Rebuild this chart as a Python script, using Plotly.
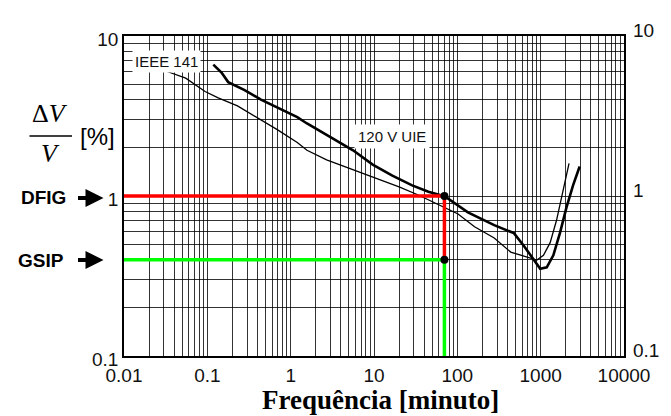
import math
import plotly.graph_objects as go

# ---- data ----
ieee_x = [0.033, 0.055, 0.094, 0.135, 0.23, 0.40, 0.69, 1.2, 1.57, 2.7, 5.6, 11.5, 20, 34,
          59, 102, 161, 277, 437, 752, 900, 1080, 1300, 1550, 1860, 2190]
ieee_y = [6.0, 5.45, 4.5, 4.1, 3.66, 3.1, 2.6, 2.16, 1.93, 1.68, 1.46, 1.28, 1.14, 1.015,
          0.885, 0.772, 0.643, 0.547, 0.446, 0.407, 0.398, 0.426, 0.511, 0.705, 1.06, 1.6]

uie_x = [0.118, 0.148, 0.178, 0.28, 0.44, 0.69, 1.2, 1.57, 2.7, 5.6, 9.65, 16.6, 28.7, 45,
         71, 134, 277, 477, 627, 823, 988, 1183, 1419, 1702, 2037, 2447, 2936]
uie_y = [6.63, 5.91, 5.15, 4.59, 4.0, 3.57, 3.11, 2.84, 2.42, 1.93, 1.57, 1.34, 1.165, 1.064,
         0.993, 0.79, 0.658, 0.586, 0.489, 0.398, 0.351, 0.358, 0.426, 0.586, 0.846, 1.165, 1.53]

freq_min = 0.01
op_freq = 70
dfig_level = 1.0
gsip_level = 0.4
y_floor = 0.1

x_decades = [0.01, 0.1, 1, 10, 100, 1000, 10000]
x_tick_labels = ["0.01", "0.1", "1", "10", "100", "1000", "10000"]
y_decades = [0.1, 1, 10]
y_tick_labels = ["0.1", "1", "10"]

# grid positions (1..9 per decade)
x_grid = [d * 10.0 ** k for k in range(-2, 4) for d in range(1, 10)] + [10000]
x_text = [x_tick_labels[x_decades.index(v)] if v in x_decades else "" for v in
          [round(g, 6) for g in x_grid]]
y_grid = [d * 10.0 ** k for k in range(-1, 1) for d in range(1, 10)] + [10]
y_text = [y_tick_labels[y_decades.index(v)] if v in y_decades else "" for v in
          [round(g, 6) for g in y_grid]]

fig = go.Figure()

fig.add_trace(go.Scatter(x=ieee_x, y=ieee_y, mode="lines",
                         line=dict(color="black", width=1.3), showlegend=False))
fig.add_trace(go.Scatter(x=uie_x, y=uie_y, mode="lines",
                         line=dict(color="black", width=2.6), showlegend=False))

fig.add_trace(go.Scatter(x=[freq_min, op_freq, op_freq], y=[gsip_level, gsip_level, y_floor],
                         mode="lines", line=dict(color="#00ff00", width=3.5),
                         cliponaxis=False, showlegend=False))
fig.add_trace(go.Scatter(x=[freq_min, op_freq, op_freq], y=[dfig_level, dfig_level, gsip_level],
                         mode="lines", line=dict(color="#ff0000", width=3.5),
                         cliponaxis=False, showlegend=False))
fig.add_trace(go.Scatter(x=[op_freq, op_freq], y=[dfig_level, gsip_level], mode="markers",
                         marker=dict(color="black", size=8), showlegend=False))
fig.add_trace(go.Scatter(x=[op_freq], y=[dfig_level], mode="markers", yaxis="y2",
                         marker=dict(opacity=0), hoverinfo="skip", showlegend=False))

tickfont = dict(family="Liberation Sans, Arial", size=19, color="#111")
gridc = "rgba(0,0,0,0.8)"

# the page body has an 8px margin, so the figure is sized to fit the 671x416 window
fig.update_layout(
    width=663, height=408,
    margin=dict(l=116, r=39, t=12, b=60),
    paper_bgcolor="white", plot_bgcolor="white",
    xaxis=dict(type="log", range=[-2, 4], tickmode="array", tickvals=x_grid, ticktext=x_text,
               showgrid=True, gridcolor=gridc, gridwidth=1, ticks="",
               showline=True, linecolor="black", linewidth=1.5, mirror=True,
               tickfont=tickfont, zeroline=False, ticklabelstandoff=1),
    yaxis=dict(type="log", range=[-1, 1], tickmode="array", tickvals=y_grid, ticktext=y_text,
               showgrid=True, gridcolor=gridc, gridwidth=1, ticks="",
               showline=True, linecolor="black", linewidth=1.5, mirror=True,
               tickfont=tickfont, zeroline=False, ticklabelshift=3),
    yaxis2=dict(type="log", range=[-1, 1], overlaying="y", side="right", tickmode="array",
                tickvals=y_decades, ticktext=y_tick_labels, showgrid=False, ticks="",
                showline=False, tickfont=tickfont, zeroline=False, ticklabelstandoff=8,
                ticklabelshift=-6),
)

ann = []
sans = "Liberation Sans, Arial"
serif = "Liberation Serif, Times New Roman"
# curve labels (log coordinates for log axes)
ann.append(dict(x=math.log10(0.032), y=math.log10(6.9), xref="x", yref="y", text="IEEE 141",
                showarrow=False, bgcolor="white", xanchor="center", yanchor="middle",
                font=dict(family=sans, size=15, color="#111"), borderpad=2))
ann.append(dict(x=math.log10(16.3), y=math.log10(2.37), xref="x", yref="y", text="120 V UIE",
                showarrow=False, bgcolor="white", xanchor="center", yanchor="middle",
                font=dict(family=sans, size=15, color="#111"), borderpad=3))

# y-axis label as a fraction
ann.append(dict(x=-0.148, y=0.759, xref="paper", yref="paper", text="Δ<i>V</i>",
                showarrow=False, xanchor="center", yanchor="middle",
                font=dict(family=serif, size=26, color="black")))
ann.append(dict(x=-0.148, y=0.634, xref="paper", yref="paper", text="<i>V</i>",
                showarrow=False, xanchor="center", yanchor="middle",
                font=dict(family=serif, size=26, color="black")))
ann.append(dict(x=-0.053, y=0.6875, xref="paper", yref="paper", text="[%]",
                showarrow=False, xanchor="center", yanchor="middle",
                font=dict(family=sans, size=24, color="black")))

# DFIG / GSIP markers
lab = dict(family=sans, size=19, color="black")
ann.append(dict(x=-0.161, y=0.494, xref="paper", yref="paper", text="<b>DFIG</b>",
                showarrow=False, xanchor="center", yanchor="middle", font=lab))
ann.append(dict(x=-0.167, y=0.30, xref="paper", yref="paper", text="<b>GSIP</b>",
                showarrow=False, xanchor="center", yanchor="middle", font=lab))
for yp in (0.494, 0.30):
    ann.append(dict(x=-0.041, y=yp, xref="paper", yref="paper", ax=-27, ay=0, text="",
                    showarrow=True, arrowhead=2, arrowsize=0.9, arrowwidth=4, arrowcolor="black"))

# x-axis title
ann.append(dict(x=0.513, y=-0.136, xref="paper", yref="paper", text="<b>Frequência [minuto]</b>",
                showarrow=False, xanchor="center", yanchor="middle",
                font=dict(family=serif, size=27, color="black")))

fig.update_layout(annotations=ann)
fig.add_shape(type="line", xref="paper", yref="paper", x0=-0.189, x1=-0.104, y0=0.6875, y1=0.6875,
              line=dict(color="black", width=1.5))

fig.write_html("out.html")
